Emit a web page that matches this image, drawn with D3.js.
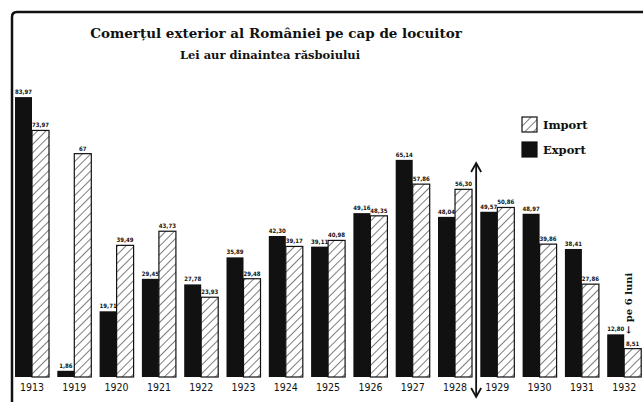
<!DOCTYPE html>
<html>
<head>
<meta charset="utf-8">
<script src="https://cdn.jsdelivr.net/npm/d3@7"></script>
<style>
  body { margin: 0; background: #fff; }
  svg { display: block; }
</style>
</head>
<body>
<figure id="chart" style="margin:0"></figure>
<script>
const years = ["1913", "1919", "1920", "1921", "1922", "1923", "1924", "1925",
  "1926", "1927", "1928", "1929", "1930", "1931", "1932"];
const exportVals = [83.97, 1.86, 19.71, 29.45, 27.78, 35.89, 42.30, 39.11,
  49.16, 65.14, 48.04, 49.57, 48.97, 38.41, 12.80];
const importVals = [73.97, 67, 39.49, 43.73, 23.93, 29.48, 39.17, 40.98,
  48.35, 57.86, 56.30, 50.86, 39.86, 27.86, 8.51];
const seriesNames = ["Import", "Export"];

const width = 643, height = 402;
const baseline = 377;
const step = 42.3, pad = 0.196;

const svg = d3.select("figure#chart")
  .append("svg")
  .attr("width", width)
  .attr("height", height);

// hatch pattern for import bars
const defs = svg.append("defs");
const pat = defs.append("pattern")
  .attr("id", "hatch")
  .attr("patternUnits", "userSpaceOnUse")
  .attr("width", 6)
  .attr("height", 6)
  .attr("patternTransform", "rotate(45)");
pat.append("rect").attr("width", 6).attr("height", 6).attr("fill", "#fff");
pat.append("line")
  .attr("x1", 0).attr("y1", 0).attr("x2", 0).attr("y2", 6)
  .attr("stroke", "#111").attr("stroke-width", 1.1);

// frame (left + top, rounded corner)
svg.append("path")
  .attr("d", "M12,402 L12,17 Q12,12 17,12 L643,12")
  .attr("fill", "none")
  .attr("stroke", "#111")
  .attr("stroke-width", 2.5);

svg.append("text")
  .attr("x", 276).attr("y", 38)
  .attr("text-anchor", "middle")
  .style("font-family", "'DejaVu Serif', serif")
  .style("font-weight", "bold")
  .style("font-size", "13.5px")
  .attr("fill", "#111")
  .text("Comerțul exterior al României pe cap de locuitor");

svg.append("text")
  .attr("x", 270).attr("y", 59)
  .attr("text-anchor", "middle")
  .style("font-family", "'DejaVu Serif', serif")
  .style("font-weight", "bold")
  .style("font-size", "11.5px")
  .attr("fill", "#111")
  .text("Lei aur dinaintea răsboiului");

const x = d3.scaleBand()
  .domain(years)
  .range([15 - pad * step, 15 - pad * step + step * (15 + pad)])
  .paddingInner(pad)
  .paddingOuter(pad);

const xs = d3.scaleBand()
  .domain(["export", "import"])
  .range([0, x.bandwidth()]);

const y = d3.scaleLinear()
  .domain([0, 84])
  .range([baseline, 97]);

const fmt = v => Number.isInteger(v) ? String(v) : v.toFixed(2).replace(".", ",");

const rows = years.map((yr, i) => ({ year: yr, export: exportVals[i], import: importVals[i] }));

const groups = svg.append("g")
  .selectAll("g")
  .data(rows)
  .enter()
  .append("g")
  .attr("transform", d => "translate(" + x(d.year) + ",0)");

["export", "import"].forEach(key => {
  groups.append("rect")
    .attr("x", xs(key))
    .attr("y", d => y(d[key]))
    .attr("width", xs.bandwidth())
    .attr("height", d => baseline - y(d[key]))
    .attr("fill", key === "export" ? "#111" : "url(#hatch)")
    .attr("stroke", "#111")
    .attr("stroke-width", key === "export" ? 0 : 1.2);

  groups.append("text")
    .attr("x", xs(key) + xs.bandwidth() / 2)
    .attr("y", d => y(d[key]) - 3)
    .attr("text-anchor", "middle")
    .style("font-family", "'DejaVu Sans Condensed', sans-serif")
    .style("font-weight", "bold")
    .style("font-size", "6px")
    .attr("fill", "#111")
    .text(d => fmt(d[key]));
});

// year axis labels
const xAxis = svg.append("g")
  .attr("transform", "translate(0," + baseline + ")")
  .call(d3.axisBottom(x).tickSize(0).tickPadding(7));
xAxis.select(".domain").remove();
xAxis.selectAll("text")
  .style("font-family", "'Liberation Sans Narrow', 'DejaVu Sans Condensed', sans-serif")
  .style("font-size", "10.5px")
  .attr("fill", "#111");

// double arrow between 1928 and 1929
const ax = (x("1928") + x.bandwidth() + x("1929")) / 2;
svg.append("line")
  .attr("x1", ax).attr("x2", ax)
  .attr("y1", 164).attr("y2", 396)
  .attr("stroke", "#111").attr("stroke-width", 1.8);
svg.append("path")
  .attr("d", `M${ax - 5},172 L${ax},163 L${ax + 5},172`)
  .attr("fill", "none").attr("stroke", "#111").attr("stroke-width", 1.8);
svg.append("path")
  .attr("d", `M${ax - 5},388 L${ax},397 L${ax + 5},388`)
  .attr("fill", "none").attr("stroke", "#111").attr("stroke-width", 1.8);

// "pe 6 luni" note for 1932
svg.append("text")
  .attr("transform", "translate(632,334) rotate(-90)")
  .style("font-family", "'DejaVu Serif', serif")
  .style("font-weight", "bold")
  .style("font-size", "10px")
  .attr("fill", "#111")
  .text("← pe 6 luni");

// legend
const legend = svg.append("g").attr("transform", "translate(522,117)");
seriesNames.forEach((name, i) => {
  legend.append("rect")
    .attr("x", 0).attr("y", i * 25)
    .attr("width", 15).attr("height", 15)
    .attr("fill", name === "Import" ? "url(#hatch)" : "#111")
    .attr("stroke", "#111")
    .attr("stroke-width", 1.2);
  legend.append("text")
    .attr("x", 21).attr("y", i * 25 + 12)
    .style("font-family", "'DejaVu Serif', serif")
    .style("font-weight", "bold")
    .style("font-size", "11.5px")
    .attr("fill", "#111")
    .text(name);
});
</script>
</body>
</html>
